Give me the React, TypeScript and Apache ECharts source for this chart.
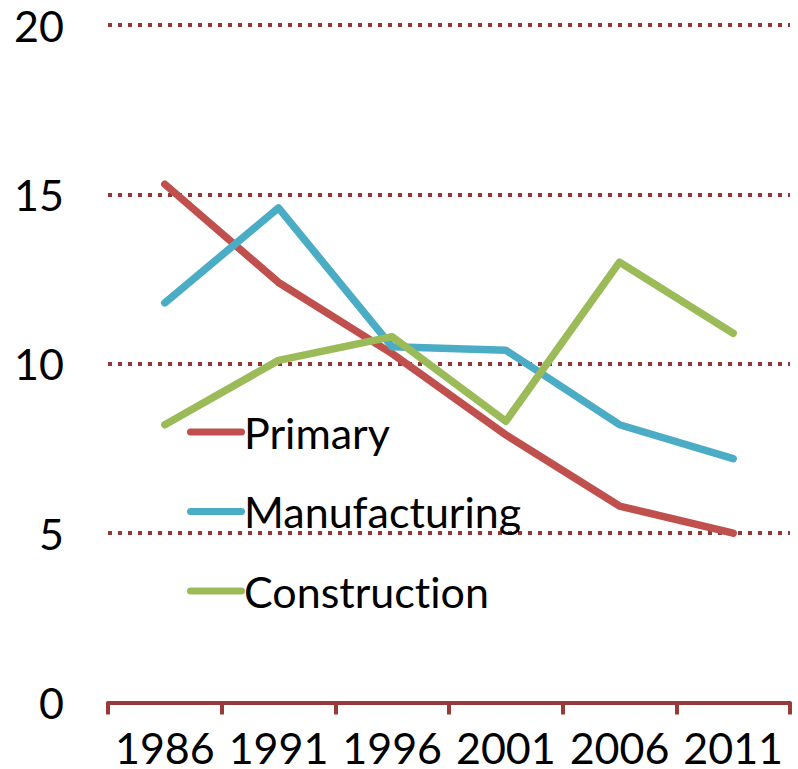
import React, { useEffect, useRef } from "react";
import * as echarts from "echarts";

const years = ["1986", "1991", "1996", "2001", "2006", "2011"];
const primary = [15.3, 12.4, 10.3, 7.9, 5.8, 5.0];
const manufacturing = [11.8, 14.6, 10.5, 10.4, 8.2, 7.2];
const construction = [8.2, 10.1, 10.8, 8.3, 13.0, 10.9];

const FONT = "Lato";
const legendIcon = "path://M3.5,0 H54.5 A3.5,3.5 0 0 1 54.5,7 H3.5 A3.5,3.5 0 0 1 3.5,0 Z";

export default function App() {
  const ref = useRef<HTMLDivElement>(null);
  useEffect(() => {
    if (!ref.current) return;
    const chart = echarts.init(ref.current, null, { renderer: "svg" });
    const mk = (name: string, data: number[], color: string) => ({
      name,
      type: "line",
      data,
      symbol: "none",
      color,
      lineStyle: { width: 7.5, color, cap: "round", join: "round" },
    });
    chart.setOption({
      animation: false,
      grid: { left: 108, right: 8, top: 25, bottom: 64 },
      legend: {
        orient: "vertical",
        left: 187,
        top: 407,
        padding: 0,
        icon: legendIcon,
        itemWidth: 58,
        itemHeight: 7,
        itemGap: 29.5,
        textStyle: { fontFamily: FONT, fontSize: 43, color: "#000", lineHeight: 50, padding: [0, 0, 0, -6] },
        data: ["Primary", "Manufacturing", "Construction"],
      },
      xAxis: {
        type: "category",
        data: years,
        boundaryGap: true,
        axisLine: { lineStyle: { color: "#983A38", width: 4 } },
        axisTick: { show: true, length: 12, lineStyle: { color: "#983A38", width: 4 } },
        axisLabel: { fontFamily: FONT, fontSize: 43, lineHeight: 36, color: "#000", margin: 27, interval: 0 },
      },
      yAxis: {
        type: "value",
        min: 0,
        max: 20,
        interval: 5,
        axisLine: { show: false },
        axisTick: { show: false },
        axisLabel: { fontFamily: FONT, fontSize: 43, color: "#000", margin: 44 },
        splitLine: {
          show: true,
          lineStyle: { color: "#953735", width: 4, type: [4, 6] },
        },
      },
      series: [
        mk("Primary", primary, "#C0504D"),
        mk("Manufacturing", manufacturing, "#4BACC6"),
        mk("Construction", construction, "#9BBB59"),
      ],
    });
    return () => chart.dispose();
  }, []);
  return (
    <>
      <style>{"text { font-variant-ligatures: none; font-feature-settings: 'liga' 0; }"}</style>
      <div
        ref={ref}
        style={{ position: "fixed", left: 0, top: 0, width: 798, height: 769, background: "#fff" }}
      />
    </>
  );
}
